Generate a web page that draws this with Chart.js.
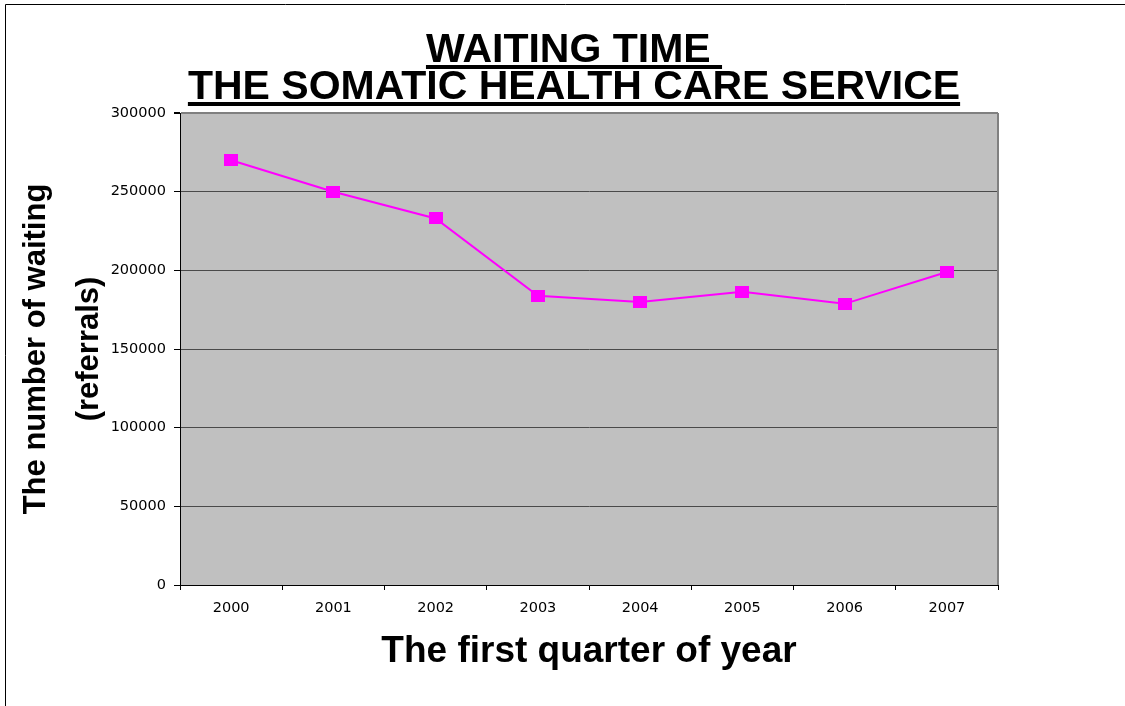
<!DOCTYPE html>
<html>
<head>
<meta charset="utf-8">
<script src="https://cdn.jsdelivr.net/npm/chart.js@4"></script>
<style>
  html, body { margin: 0; padding: 0; background: #fff; }
  #wrap { width: 1125px; height: 706px; }
</style>
</head>
<body>
<div id="wrap"><canvas id="waitChart" width="1125" height="706"></canvas></div>
<script>
// values
const years = ['2000', '2001', '2002', '2003', '2004', '2005', '2006', '2007'];
const waiting = [270000, 250000, 233000, 183800, 179900, 186400, 178700, 198900];
const titleLines = ['WAITING TIME ', 'THE SOMATIC HEALTH CARE SERVICE'];
const yTitle = ['The number of waiting', '(referrals)'];
const xTitle = 'The first quarter of year';

const FONT = "'Liberation Sans', Arial, sans-serif";
const TICK_FONT = "'DejaVu Sans', sans-serif";
Chart.defaults.font.family = FONT;
Chart.defaults.color = '#000';

// square-ish marker like the old excel one
function makeMarker() {
    const c = document.createElement('canvas');
    c.width = 14;
    c.height = 12;
    const g = c.getContext('2d');
    g.fillStyle = '#ff00ff';
    g.fillRect(0, 0, 14, 12);
    return c;
}

// grey plot area, frame and underlined title
const decor = {
    id: 'decor',
    beforeDraw(chart) {
        const { ctx, chartArea: a } = chart;
        ctx.save();
        ctx.fillStyle = '#c0c0c0';
        ctx.fillRect(a.left, a.top, a.right - a.left, a.bottom - a.top);
        ctx.restore();
    },
    afterDraw(chart) {
        const { ctx, chartArea: a } = chart;
        ctx.save();
        // outer frame (only left/top visible)
        ctx.strokeStyle = '#000';
        ctx.lineWidth = 1;
        ctx.beginPath();
        ctx.moveTo(5.5, 710);
        ctx.lineTo(5.5, 4.5);
        ctx.lineTo(1130, 4.5);
        ctx.stroke();

        // right border of the plot
        ctx.strokeStyle = '#808080';
        ctx.lineWidth = 2;
        ctx.beginPath();
        ctx.moveTo(a.right, a.top);
        ctx.lineTo(a.right, a.bottom);
        ctx.stroke();

        // title
        ctx.fillStyle = '#000';
        ctx.font = 'bold 41px ' + FONT;
        ctx.textAlign = 'center';
        ctx.textBaseline = 'alphabetic';
        const cx = 574;
        const base = [62, 99];
        titleLines.forEach((t, i) => {
            ctx.fillText(t, cx, base[i]);
            const w = ctx.measureText(t).width;
            ctx.fillRect(cx - w / 2, base[i] + 3, w, 4);
        });
        ctx.restore();
    }
};

new Chart(document.getElementById('waitChart'), {
    type: 'line',
    data: {
        labels: years,
        datasets: [{
            data: waiting,
            borderColor: '#ff00ff',
            backgroundColor: '#ff00ff',
            borderWidth: 2,
            tension: 0,
            pointStyle: makeMarker(),
            pointRadius: 7,
            pointHoverRadius: 7
        }]
    },
    options: {
        responsive: false,
        animation: false,
        layout: {
            padding: { top: 113, right: 127, bottom: 0, left: 0 }
        },
        plugins: {
            legend: { display: false },
            tooltip: { enabled: false }
        },
        scales: {
            x: {
                offset: true,
                afterFit(scale) { scale.height = 121; },
                grid: {
                    offset: true,
                    drawOnChartArea: false,
                    tickLength: 5,
                    tickColor: '#000'
                },
                border: { color: '#000', width: 1 },
                ticks: {
                    font: { family: TICK_FONT, size: 14.5 },
                    padding: 10,
                    maxRotation: 0
                },
                title: {
                    display: true,
                    text: xTitle,
                    font: { size: 37, weight: 'bold' },
                    padding: { top: 0, bottom: 32 }
                }
            },
            y: {
                min: 0,
                max: 300000,
                afterFit(scale) { scale.width = 180; },
                grid: {
                    color: c => c.tick && c.tick.value === 300000 ? '#808080' : '#4a4a4a',
                    lineWidth: c => c.tick && c.tick.value === 300000 ? 2 : 1,
                    tickLength: 6,
                    tickColor: '#000'
                },
                border: { color: '#000', width: 1 },
                ticks: {
                    stepSize: 50000,
                    font: { family: TICK_FONT, size: 14.5 },
                    padding: 8,
                    callback: v => String(v)
                },
                title: {
                    display: true,
                    text: yTitle,
                    font: { size: 31, weight: 'bold', lineHeight: 1.7 },
                    padding: { top: 10, bottom: 0 }
                }
            }
        }
    },
    plugins: [decor]
});
</script>
</body>
</html>
